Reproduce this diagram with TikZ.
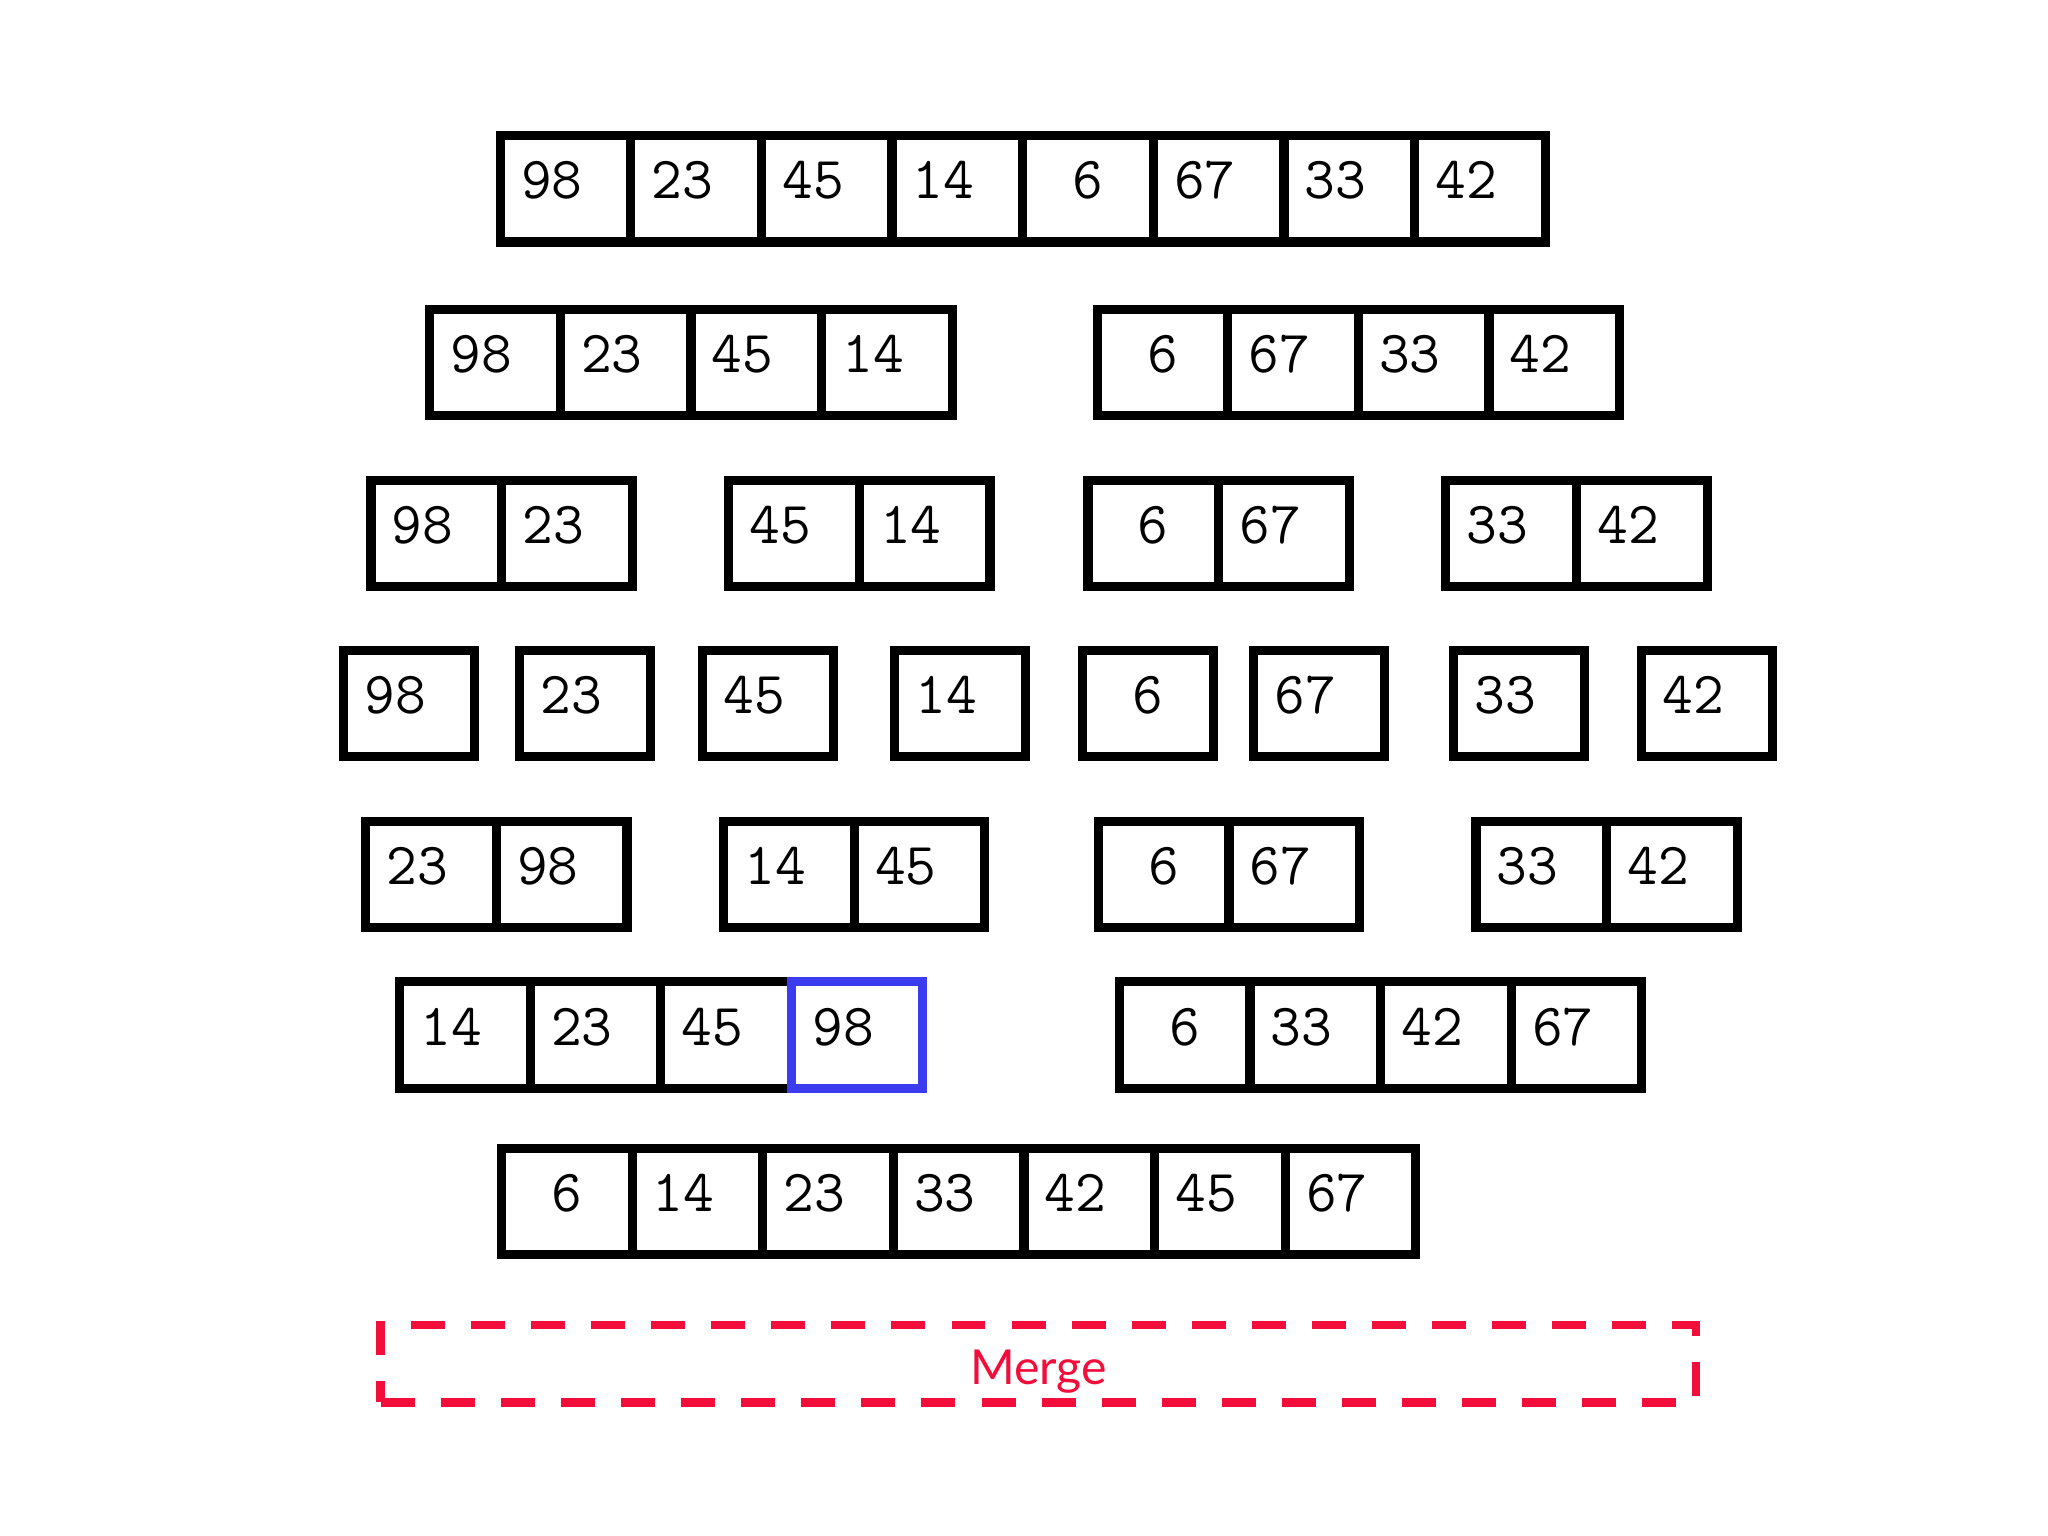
\documentclass[tikz,border=0pt]{standalone}
\usepackage{fontspec}
\newfontfamily\latofont{Lato}
\usepackage{xcolor}
\usepackage{tikz}
\usetikzlibrary{positioning}
\definecolor{Blue}{HTML}{3B3BF0}
\definecolor{Red} {HTML}{F20D3B}
\tikzset{
  cell/.style={draw, line width=2pt, outer sep=0pt, inner sep=0pt,
               minimum width=10mm, minimum height=8.15mm, text depth=3.7pt,
               font=\ttfamily\fontsize{13}{15}\selectfont,
               execute at end node=\hspace{6pt}},
  one/.style={cell, execute at begin node=\hspace{6pt}},
  hot/.style={cell, draw=Blue},
  mrg/.style={draw=Red, dash pattern=on 2.6mm off 2mm, line width=1.9pt,
              minimum width=100.7mm, minimum height=5.9mm, text=Red,
              text depth=0pt, text height=8.9pt,
              font=\latofont\fontsize{10.5}{12}\selectfont}
}

\begin{document}
\begin{tikzpicture}[x=0.1mm,y=-0.1mm]
  \useasboundingbox (0,0) rectangle (1568,1176);
  \node[cell,anchor=west] (A1) at (383,144.5) {98};
  \node[cell,right=0pt of A1] (A2) {23};
  \node[cell,right=0pt of A2] (A3) {45};
  \node[cell,right=0pt of A3] (A4) {14};
  \node[one, right=0pt of A4] (A5) {6};
  \node[cell,right=0pt of A5] (A6) {67};
  \node[cell,right=0pt of A6] (A7) {33};
  \node[cell,right=0pt of A7] (A8) {42};

  \node[cell,anchor=west] (B1) at (329,277.5) {98};
  \node[cell,right=0pt of B1] (B2) {23};
  \node[cell,right=0pt of B2] (B3) {45};
  \node[cell,right=0pt of B3] (B4) {14};
  \node[one,anchor=west] (B5) at (840,277.5) {6};
  \node[cell,right=0pt of B5] (B6) {67};
  \node[cell,right=0pt of B6] (B7) {33};
  \node[cell,right=0pt of B7] (B8) {42};

  \node[cell,anchor=west] (C1) at (284,408.5) {98};
  \node[cell,right=0pt of C1] (C2) {23};
  \node[cell,anchor=west] (C3) at (558,408.5) {45};
  \node[cell,right=0pt of C3] (C4) {14};
  \node[one,anchor=west] (C5) at (833,408.5) {6};
  \node[cell,right=0pt of C5] (C6) {67};
  \node[cell,anchor=west] (C7) at (1107,408.5) {33};
  \node[cell,right=0pt of C7] (C8) {42};

  \node[cell,anchor=west] (D1) at (263,538.5) {98};
  \node[cell,anchor=west] (D2) at (398,538.5) {23};
  \node[cell,anchor=west] (D3) at (538,538.5) {45};
  \node[cell,anchor=west] (D4) at (685,538.5) {14};
  \node[one,anchor=west]  (D5) at (829,538.5) {6};
  \node[cell,anchor=west] (D6) at (960,538.5) {67};
  \node[cell,anchor=west] (D7) at (1113,538.5) {33};
  \node[cell,anchor=west] (D8) at (1257,538.5) {42};

  \node[cell,anchor=west] (E1) at (280,669.5) {23};
  \node[cell,right=0pt of E1] (E2) {98};
  \node[cell,anchor=west] (E3) at (554,669.5) {14};
  \node[cell,right=0pt of E3] (E4) {45};
  \node[one,anchor=west] (E5) at (841,669.5) {6};
  \node[cell,right=0pt of E5] (E6) {67};
  \node[cell,anchor=west] (E7) at (1130,669.5) {33};
  \node[cell,right=0pt of E7] (E8) {42};

  \node[cell,anchor=west] (F1) at (306,792.5) {14};
  \node[cell,right=0pt of F1] (F2) {23};
  \node[cell,right=0pt of F2] (F3) {45};
  \node[hot, right=0pt of F3] (F4) {98};
  \node[one,anchor=west] (F5) at (857,792.5) {6};
  \node[cell,right=0pt of F5] (F6) {33};
  \node[cell,right=0pt of F6] (F7) {42};
  \node[cell,right=0pt of F7] (F8) {67};

  \node[one,anchor=west] (G1) at (384,920) {6};
  \node[cell,right=0pt of G1] (G2) {14};
  \node[cell,right=0pt of G2] (G3) {23};
  \node[cell,right=0pt of G3] (G4) {33};
  \node[cell,right=0pt of G4] (G5) {42};
  \node[cell,right=0pt of G5] (G6) {45};
  \node[cell,right=0pt of G6] (G7) {67};

  \node[mrg] (M) at (795,1044) {Merge};
\end{tikzpicture}
\end{document}
